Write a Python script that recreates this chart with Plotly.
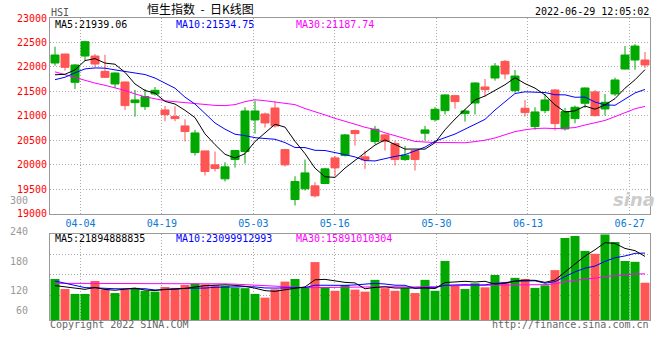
import plotly.graph_objects as go

W, H = 660, 360


def px_x(x):
    return x / W


def px_y(y):
    return 1 - y / H


# ---------------- data ----------------
dates = ["03-30", "03-31", "04-01", "04-04", "04-06", "04-07", "04-08", "04-11", "04-12", "04-13",
         "04-14", "04-19", "04-20", "04-21", "04-22", "04-25", "04-26", "04-27", "04-28", "04-29",
         "05-03", "05-04", "05-05", "05-06", "05-10", "05-11", "05-12", "05-13", "05-16", "05-17",
         "05-18", "05-19", "05-20", "05-23", "05-24", "05-25", "05-26", "05-27", "05-30", "05-31",
         "06-01", "06-02", "06-06", "06-07", "06-08", "06-09", "06-10", "06-13", "06-14", "06-15",
         "06-16", "06-17", "06-20", "06-21", "06-22", "06-23", "06-24", "06-27", "06-28", "06-29"]

opens = [22080, 22264, 21686, 22223, 22223, 21910, 21652, 21693, 21271, 21190,
         21448, 21122, 20986, 20795, 20251, 20285, 20000, 19714, 20108, 20272,
         20918, 21040, 21162, 20312, 19292, 19510, 19571, 19619, 20142, 20190,
         20700, 20163, 20476, 20612, 20435, 20108, 20292, 20646, 20924, 21108,
         21414, 21047, 21264, 21591, 21774, 22114, 21516, 21156, 20782, 21108,
         21530, 20734, 20945, 21258, 21489, 21142, 21448, 21958, 22142, 22142]
highs = [22414, 22270, 22060, 22536, 22264, 22250, 21890, 21700, 21530, 21550,
         21591, 21203, 21196, 20931, 20714, 20285, 20272, 20054, 20306, 21176,
         21312, 21067, 21298, 20326, 19768, 20108, 19646, 19938, 20183, 20632,
         20720, 20292, 20795, 20632, 20496, 20387, 20306, 20795, 21183, 21440,
         21428, 21135, 21686, 21754, 22080, 22142, 21938, 21326, 21176, 21448,
         21550, 21162, 21210, 21580, 21530, 21448, 21781, 22427, 22468, 22305]
lows = [22026, 21924, 21550, 22128, 22006, 21774, 21570, 21122, 20986, 21122,
        21414, 20890, 20890, 20476, 20190, 19782, 19864, 19660, 19945, 20027,
        20639, 20761, 20761, 19966, 19170, 19476, 19333, 19605, 19762, 20170,
        20394, 19918, 20421, 20292, 19986, 20081, 19884, 20496, 20884, 21026,
        21149, 20884, 21026, 21394, 21720, 21747, 21475, 20986, 20714, 21054,
        20700, 20700, 20850, 21162, 20986, 21006, 21407, 21950, 21944, 21978]
closes = [22244, 21992, 22040, 22516, 22060, 21788, 21876, 21210, 21326, 21394,
          21523, 21026, 20945, 20680, 20652, 19864, 19925, 19959, 20292, 21101,
          21101, 20856, 20795, 20000, 19660, 19836, 19367, 19918, 19938, 20612,
          20639, 20102, 20727, 20476, 20108, 20197, 20108, 20714, 21135, 21428,
          21292, 21101, 21672, 21536, 22019, 21856, 21815, 21067, 21081, 21326,
          20843, 21088, 21176, 21570, 21006, 21278, 21734, 22244, 22427, 22040]

ma5 = [21840, 21850, 21940, 22130, 22170, 22079, 22056, 21890, 21652, 21519,
       21466, 21296, 21243, 21114, 20965, 20633, 20413, 20216, 20138, 20228,
       20476, 20662, 20829, 20771, 20482, 20229, 19932, 19756, 19744, 19934,
       20095, 20242, 20404, 20511, 20410, 20322, 20323, 20321, 20452, 20716,
       20935, 21134, 21326, 21406, 21524, 21637, 21780, 21659, 21568, 21429,
       21226, 21081, 21103, 21201, 21137, 21224, 21353, 21566, 21738, 21945]
ma10 = [21740, 21790, 21880, 21960, 21980, 21975, 21940, 21910, 21875, 21845,
        21773, 21676, 21566, 21383, 21242, 21050, 20855, 20729, 20626, 20597,
        20555, 20538, 20523, 20455, 20355, 20353, 20297, 20293, 20257, 20208,
        20162, 20087, 20080, 20128, 20172, 20208, 20283, 20362, 20482, 20563,
        20629, 20729, 20823, 20929, 21120, 21286, 21457, 21492, 21487, 21477,
        21432, 21430, 21381, 21384, 21283, 21225, 21217, 21335, 21469, 21541]
ma30 = [21900, 21840, 21780, 21720, 21670, 21625, 21580, 21520, 21450, 21390,
        21350, 21310, 21290, 21270, 21250, 21230, 21215, 21210, 21230, 21290,
        21330, 21310, 21280, 21260, 21230, 21150, 21090, 21020, 20950, 20883,
        20830, 20767, 20723, 20655, 20590, 20537, 20478, 20461, 20455, 20456,
        20448, 20451, 20475, 20504, 20549, 20616, 20679, 20716, 20742, 20749,
        20741, 20749, 20761, 20814, 20858, 20907, 20985, 21063, 21146, 21194]

volume = [143, 108, 91, 91, 136, 107, 94, 107, 112, 102,
          99, 115, 112, 122, 127, 124, 121, 119, 113, 111,
          91, 78, 107, 134, 143, 115, 202, 115, 102, 122,
          106, 99, 140, 111, 102, 111, 94, 140, 102, 206,
          119, 108, 128, 114, 157, 133, 147, 143, 112, 121,
          174, 286, 293, 241, 231, 298, 272, 206, 203, 130]
vol_ma5 = [120, 116, 110, 107, 113.8, 106.6, 103.8, 107, 111.2, 104.4,
           102.8, 107, 108, 110, 115, 120, 121.2, 122.6, 120.8, 117.6,
           111, 102.4, 100, 104.2, 110.6, 115.4, 140.2, 141.8, 135.4, 131.2,
           129.4, 108.8, 113.8, 115.6, 111.6, 112.6, 111.6, 111.6, 109.8, 130.6,
           132.2, 135, 132.6, 135, 125.2, 128, 135.8, 138.8, 138.4, 131.2,
           139.4, 167.2, 197.2, 223, 245, 269.8, 267, 249.6, 242, 221.8]
vol_ma10 = [136, 128, 120, 113, 112, 110, 109, 109, 109, 109.1,
            104.7, 105.4, 107.5, 110.6, 109.7, 111.4, 114.1, 115.3, 115.4, 116.3,
            115.5, 111.8, 111.3, 112.5, 114.1, 113.2, 121.3, 120.9, 119.8, 120.9,
            122.4, 124.5, 127.8, 125.5, 121.4, 121, 110.2, 112.7, 112.7, 121.1,
            122.4, 123.3, 122.1, 122.4, 127.9, 130.1, 135.4, 135.7, 136.7, 128.2,
            133.7, 151.5, 168, 180.7, 188.1, 204.6, 217.1, 223.4, 232.5, 233.4]
vol_ma30 = [128, 128, 128, 128, 128, 128, 128, 128, 128, 128,
            128, 128, 128, 128, 128, 128, 127, 126, 125, 123,
            121, 119, 117, 115, 114, 113, 113, 113, 114, 115.4,
            114.2, 113.9, 115.5, 116.2, 115.1, 115.2, 115.2, 116.3, 116, 119.4,
            120.1, 119.9, 120.4, 120.1, 121.1, 121.4, 122.3, 123.1, 123.1, 123.4,
            126.2, 133.1, 139.3, 142.9, 145.8, 151.9, 154.2, 157.3, 160.6, 160.9]

tick_dates = ["04-04", "04-19", "05-03", "05-16", "05-30", "06-13", "06-27"]
price_ticks = [19000, 19500, 20000, 20500, 21000, 21500, 22000, 22500, 23000]
vol_tick_labels = ["300", "240", "180", "120", "60"]

price_legend = ["MA5:21939.06", "MA10:21534.75", "MA30:21187.74"]
vol_legend = ["MA5:21894888835", "MA10:23099912993", "MA30:15891010304"]

# ---------------- style ----------------
UP = "#00A800"
DOWN = "#FF5555"
C_MA5, C_MA10, C_MA30 = "#000000", "#0000FF", "#FF00FF"
GRID = "#AAAAAA"
AXIS = "#999999"
MONO = "DejaVu Sans Mono"
N = len(dates)
x = list(range(N))
n_slots = N - 1
tick_pos = [dates.index(d) * N / n_slots - 0.5 for d in tick_dates]
xdom = [px_x(50), px_x(650)]
vol_grid = [86, 157, 228]
vol_label_y = [200, 231, 261, 290, 310]

fig = go.Figure()

fig.add_trace(go.Candlestick(
    x=x, open=opens, high=highs, low=lows, close=closes,
    increasing=dict(line=dict(color=UP, width=1), fillcolor=UP),
    decreasing=dict(line=dict(color=DOWN, width=1), fillcolor=DOWN),
    whiskerwidth=0, xaxis="x", yaxis="y", hoverinfo="skip", showlegend=False))

for series, col in [(ma30, C_MA30), (ma10, C_MA10), (ma5, C_MA5)]:
    fig.add_trace(go.Scatter(x=x, y=series, mode="lines", line=dict(color=col, width=1),
                             xaxis="x", yaxis="y", hoverinfo="skip", showlegend=False))

bar_colors = [UP if c >= o else DOWN for o, c in zip(opens, closes)]
fig.add_trace(go.Bar(x=x, y=volume, width=0.9, marker=dict(color=bar_colors, line=dict(width=0)),
                     xaxis="x2", yaxis="y2", hoverinfo="skip", showlegend=False))
for series, col in [(vol_ma30, C_MA30), (vol_ma10, C_MA10), (vol_ma5, C_MA5)]:
    fig.add_trace(go.Scatter(x=x, y=series, mode="lines", line=dict(color=col, width=1),
                             xaxis="x2", yaxis="y2", hoverinfo="skip", showlegend=False))

common_x = dict(domain=xdom, range=[-0.5, N - 0.5], tickmode="array", tickvals=tick_pos,
                showgrid=True, gridcolor=GRID, griddash="1px,2px", gridwidth=1,
                showline=True, linecolor=AXIS, linewidth=1, mirror=True,
                ticks="", zeroline=False, fixedrange=True, automargin=False)

annotations = []
legend_x = [54, 175, 295]
for txt, col, lx in zip(price_legend, [C_MA5, C_MA10, C_MA30], legend_x):
    annotations.append(dict(text=txt, x=px_x(lx), y=px_y(24.5), xref="paper", yref="paper",
                            xanchor="left", yanchor="middle", showarrow=False, borderpad=0,
                            font=dict(family=MONO, size=10, color=col)))
for txt, col, lx in zip(vol_legend, [C_MA5, C_MA10, C_MA30], legend_x):
    annotations.append(dict(text=txt, x=px_x(lx), y=px_y(238.5), xref="paper", yref="paper",
                            xanchor="left", yanchor="middle", showarrow=False, borderpad=0,
                            font=dict(family=MONO, size=10, color=col)))
for txt, ly in zip(vol_tick_labels, vol_label_y):
    annotations.append(dict(text=txt, x=px_x(29), y=px_y(ly), xref="paper", yref="paper",
                            xanchor="right", yanchor="middle", showarrow=False, borderpad=0,
                            font=dict(family=MONO, size=10, color="#999999")))
annotations += [
    dict(text="HSI", x=px_x(50), y=px_y(12.5), xref="paper", yref="paper", xanchor="left",
         yanchor="middle", showarrow=False, borderpad=0,
         font=dict(family=MONO, size=10, color="#555555")),
    dict(text="恒生指数\u00a0\u00a0-\u00a0\u00a0日K线图", x=px_x(200), y=px_y(8.5),
         xref="paper", yref="paper",
         xanchor="center", yanchor="middle", showarrow=False, borderpad=0,
         font=dict(family="Noto Sans CJK SC", size=12, color="#000000")),
    dict(text="2022-06-29 12:05:02", x=px_x(650), y=px_y(12), xref="paper", yref="paper",
         xanchor="right", yanchor="middle", showarrow=False, borderpad=0,
         font=dict(family=MONO, size=10, color="#000000")),
    dict(text="Copyright 2022 SINA.COM", x=px_x(49), y=px_y(324), xref="paper", yref="paper",
         xanchor="left", yanchor="middle", showarrow=False, borderpad=0,
         font=dict(family=MONO, size=10, color="#666666")),
    dict(text="http://finance.sina.com.cn", x=px_x(650), y=px_y(324), xref="paper", yref="paper",
         xanchor="right", yanchor="middle", showarrow=False, borderpad=0,
         font=dict(family=MONO, size=10, color="#666666")),
    dict(text="sina", x=px_x(634), y=px_y(199), xref="paper", yref="paper",
         xanchor="center", yanchor="middle", showarrow=False, borderpad=0,
         font=dict(family="DejaVu Sans", size=18, color="#CCCCCC", style="italic", weight="bold")),
]

fig.update_layout(
    width=W, height=H, margin=dict(l=0, r=0, t=0, b=0, autoexpand=False),
    paper_bgcolor="white", plot_bgcolor="white", showlegend=False, hovermode=False,
    boxgap=0.2, boxgroupgap=0, bargap=0.1,
    xaxis=dict(common_x, anchor="y", ticktext=tick_dates, showticklabels=True,
               tickfont=dict(family=MONO, size=10, color="#0A78D2"),
               rangeslider=dict(visible=False)),
    yaxis=dict(domain=[px_y(213.8), px_y(18)], range=[19000, 23000], anchor="x",
               tickmode="array", tickvals=price_ticks, ticktext=[str(v) for v in price_ticks],
               showgrid=True, gridcolor=GRID, griddash="1px,2px", gridwidth=1,
               showline=True, linecolor=AXIS, linewidth=1, mirror=True,
               ticks="", zeroline=False, fixedrange=True, automargin=False,
               tickfont=dict(family=MONO, size=10, color="#FF0000")),
    xaxis2=dict(common_x, anchor="y2", showticklabels=False, matches="x"),
    yaxis2=dict(domain=[px_y(320), px_y(234)], range=[0, 300], anchor="x2",
                tickmode="array", tickvals=vol_grid, showticklabels=False,
                showgrid=True, gridcolor=GRID, griddash="1px,2px", gridwidth=1,
                showline=True, linecolor=AXIS, linewidth=1, mirror=True,
                ticks="", zeroline=False, fixedrange=True, automargin=False),
    annotations=annotations,
)

page_reset = ("document.body.style.margin='0px';"
              "document.body.style.padding='0px';"
              "document.body.style.overflow='hidden';")
fig.write_html("out.html", post_script=page_reset,
               config={"displayModeBar": False, "staticPlot": True})
